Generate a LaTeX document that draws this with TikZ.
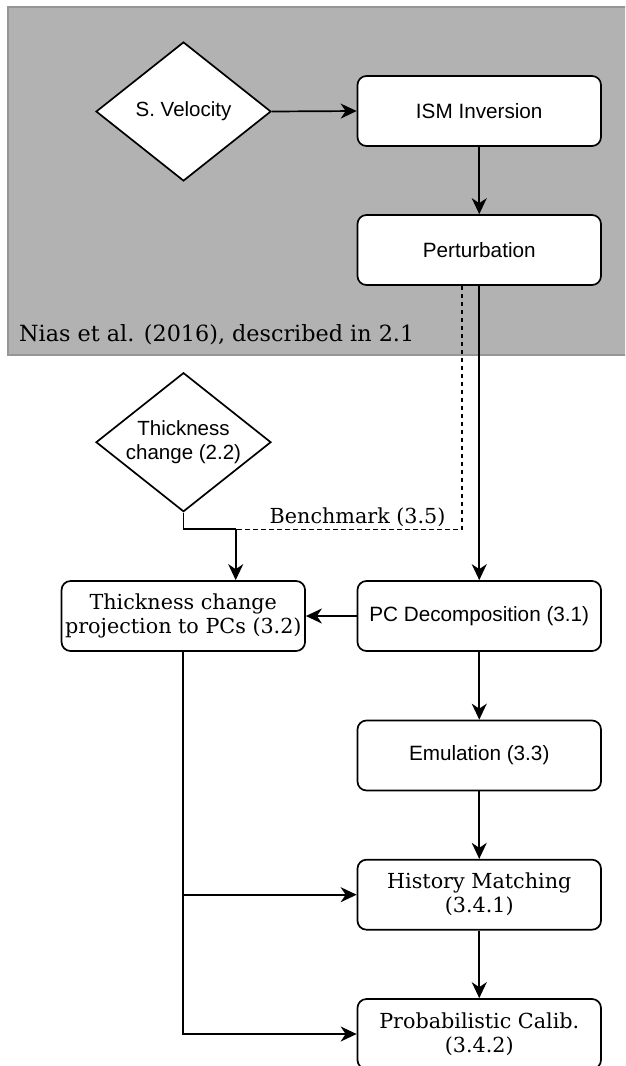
\documentclass[tikz,border=0pt]{standalone}
\usepackage{fontspec}
\setmainfont{DejaVu Serif}
\newfontfamily\sansf{Liberation Sans}
\usetikzlibrary{shapes.geometric,arrows.meta}
\definecolor{bggray}{RGB}{178,178,178}
\definecolor{bgline}{RGB}{150,150,150}
\begin{document}
\begin{tikzpicture}[x=1pt,y=-1pt,
  every node/.style={font=\fontsize{20.7}{24}\selectfont},
  procbox/.style={draw, fill=white, line width=1.7pt, rounded corners=9pt,
    minimum width=243.5pt, minimum height=70pt, inner sep=0pt, align=center},
  sansbox/.style={procbox, font=\sansf\fontsize{20.7}{24}\selectfont},
  dec/.style={draw, fill=white, diamond, line width=1.7pt, minimum width=175pt,
    minimum height=139pt, inner sep=-14pt, align=center,
    font=\sansf\fontsize{20.5}{24}\selectfont},
  arr/.style={line width=1.7pt, -{Stealth[length=16pt,width=15pt,inset=5pt]}},
  ln/.style={line width=1.7pt},
  dashln/.style={line width=1.6pt, dash pattern=on 4.5pt off 3.5pt}]
\useasboundingbox (0,0) rectangle (625,1066);
\clip (0,0) rectangle (625,1066);
\draw[fill=bggray, draw=bgline, line width=1.2pt] (8,7) rectangle (640,355);

\node[dec] (sv) at (183.5,111.5) {S. Velocity};
\node[sansbox] (ism) at (479.25,111) {ISM Inversion};
\node[sansbox] (pert) at (479.25,250) {Perturbation};
\node[anchor=base west, inner sep=0pt, font=\fontsize{22.3}{26}\selectfont] (nias) at (19,341.5) {Nias et al. (2016), described in 2.1};
\node[dec] (tc) at (183.5,442.2) {Thickness\\change (2.2)};
\node[procbox] (tp) at (183.3,616) {Thickness change\\projection to PCs (3.2)};
\node[sansbox] (pc) at (479.25,616) {PC Decomposition (3.1)};
\node[sansbox] (em) at (479.25,755.5) {Emulation (3.3)};
\node[procbox] (hm) at (479.25,894.7) {History Matching\\(3.4.1)};
\node[procbox] (prob) at (479.25,1034) {Probabilistic Calib.\\(3.4.2)};
\coordinate (j) at (235.7,529.3);
\node[anchor=base west, inner sep=0pt] (bm) at (269.5,523.3) {Benchmark (3.5)};

\draw[arr] (sv.east) -- (ism.west);
\draw[arr] (ism) -- (pert);
\draw[arr] (pert) -- (pc);
\draw[dashln] ([xshift=-17pt]pert.south) |- (j);
\draw[ln] (tc.south) |- (j);
\draw[arr] (j) -- (j |- tp.north);
\draw[arr] (pc) -- (tp);
\draw[arr] (pc) -- (em);
\draw[arr] (em) -- (hm);
\draw[arr] (hm) -- (prob);
\draw[arr] (tp.south) |- (hm.west);
\draw[arr] (tp.south) |- (prob.west);
\end{tikzpicture}
\end{document}
